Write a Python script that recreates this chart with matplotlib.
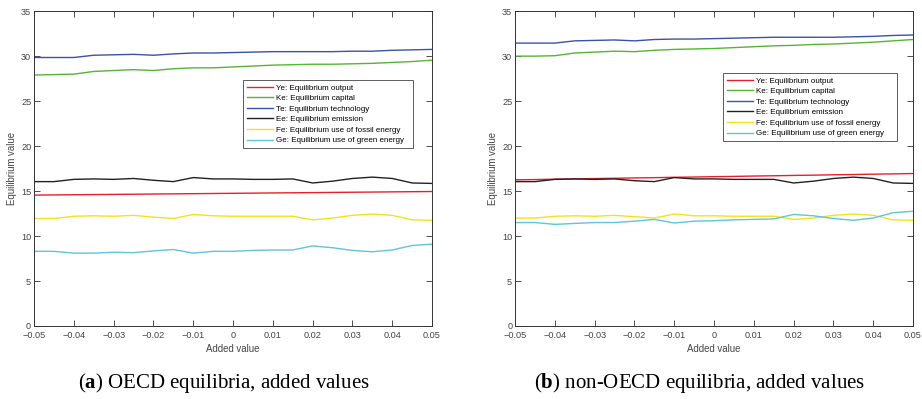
import matplotlib.pyplot as plt

# added value grid shared by both panels
added = [-0.05, -0.045, -0.04, -0.035, -0.03, -0.025, -0.02, -0.015, -0.01, -0.005,
         0.0, 0.005, 0.01, 0.015, 0.02, 0.025, 0.03, 0.035, 0.04, 0.045, 0.05]

labels = ["Ye: Equilibrium output", "Ke: Equilibrium capital",
          "Te: Equilibrium technology", "Ee: Equilibrium emission",
          "Fe: Equilibrium use of fossil energy",
          "Ge: Equilibrium use of green energy"]

# OECD equilibria
oecd_ye = [14.55, 14.57, 14.59, 14.61, 14.63, 14.65, 14.67, 14.69, 14.71, 14.73, 14.75,
           14.77, 14.79, 14.81, 14.83, 14.85, 14.87, 14.89, 14.91, 14.93, 14.95]
oecd_ke = [27.9, 27.95, 28.0, 28.3, 28.4, 28.5, 28.4, 28.6, 28.7, 28.7, 28.8,
           28.9, 29.0, 29.05, 29.1, 29.1, 29.15, 29.2, 29.3, 29.4, 29.55]
oecd_te = [29.85, 29.85, 29.85, 30.1, 30.15, 30.2, 30.1, 30.25, 30.35, 30.35, 30.4,
           30.45, 30.5, 30.5, 30.5, 30.5, 30.55, 30.55, 30.65, 30.7, 30.75]
oecd_ee = [16.05, 16.05, 16.3, 16.35, 16.3, 16.4, 16.2, 16.05, 16.5, 16.35, 16.35,
           16.3, 16.3, 16.35, 15.9, 16.1, 16.4, 16.55, 16.4, 15.9, 15.85]
oecd_fe = [11.95, 11.95, 12.2, 12.25, 12.2, 12.3, 12.1, 11.95, 12.4, 12.25, 12.2,
           12.2, 12.2, 12.2, 11.8, 12.0, 12.3, 12.45, 12.3, 11.8, 11.75]
oecd_ge = [8.3, 8.3, 8.1, 8.1, 8.2, 8.15, 8.35, 8.5, 8.1, 8.3, 8.3,
           8.4, 8.45, 8.45, 8.9, 8.7, 8.4, 8.25, 8.45, 8.95, 9.1]

# non-OECD equilibria
non_ye = [16.25, 16.28, 16.32, 16.35, 16.39, 16.42, 16.46, 16.49, 16.53, 16.56, 16.6,
          16.63, 16.67, 16.7, 16.74, 16.77, 16.81, 16.84, 16.88, 16.91, 16.95]
non_ke = [30.0, 30.0, 30.05, 30.35, 30.45, 30.55, 30.5, 30.65, 30.75, 30.8, 30.85,
          30.95, 31.05, 31.15, 31.2, 31.3, 31.35, 31.45, 31.55, 31.7, 31.85]
non_te = [31.45, 31.45, 31.45, 31.7, 31.75, 31.8, 31.7, 31.85, 31.9, 31.9, 31.95,
          32.0, 32.05, 32.1, 32.1, 32.1, 32.1, 32.15, 32.2, 32.3, 32.35]
non_ee = [16.05, 16.05, 16.3, 16.35, 16.3, 16.35, 16.15, 16.05, 16.5, 16.35, 16.35,
          16.3, 16.3, 16.3, 15.9, 16.1, 16.4, 16.55, 16.4, 15.9, 15.85]
non_fe = [12.0, 12.0, 12.2, 12.25, 12.2, 12.3, 12.15, 12.0, 12.45, 12.25, 12.25,
          12.2, 12.2, 12.2, 11.85, 12.0, 12.3, 12.45, 12.3, 11.8, 11.75]
non_ge = [11.5, 11.5, 11.3, 11.4, 11.5, 11.5, 11.65, 11.85, 11.45, 11.65, 11.7,
          11.8, 11.85, 11.9, 12.4, 12.25, 11.95, 11.75, 12.0, 12.6, 12.75]

colors = ["#e8202a", "#55b535", "#3a52a8", "#222222", "#f2e21e", "#5ec6d8"]

plt.rcParams["font.family"] = "Liberation Sans"
plt.rcParams["mathtext.fontset"] = "custom"
plt.rcParams["mathtext.rm"] = "Liberation Serif"
plt.rcParams["mathtext.bf"] = "Liberation Serif:bold"

fig = plt.figure(figsize=(9.22, 3.99), dpi=100)
ax_a = fig.add_axes([0.0369, 0.183, 0.4317, 0.789])
ax_b = fig.add_axes([0.5586, 0.183, 0.4317, 0.789])

panels = [
    (ax_a, [oecd_ye, oecd_ke, oecd_te, oecd_ee, oecd_fe, oecd_ge], (243, 82, 170, 66),
     r"($\mathbf{a}$) OECD equilibria, added values", 0.243),
    (ax_b, [non_ye, non_ke, non_te, non_ee, non_fe, non_ge], (723, 74, 174, 67),
     r"($\mathbf{b}$) non-OECD equilibria, added values", 0.759),
]

for ax, series, box, caption, cap_x in panels:
    # one line per equilibrium variable
    for vals, col, lab in zip(series, colors, labels):
        ax.plot(added, vals, color=col, lw=1.0, label=lab)

    ax.set_xlim(-0.05, 0.05)
    ax.set_ylim(0, 35)
    ax.set_xticks([-0.05, -0.04, -0.03, -0.02, -0.01, 0, 0.01, 0.02, 0.03, 0.04, 0.05])
    ax.set_xticklabels(["\u22120.05", "\u22120.04", "\u22120.03", "\u22120.02", "\u22120.01",
                        "0", "0.01", "0.02", "0.03", "0.04", "0.05"])
    ax.set_yticks([0, 5, 10, 15, 20, 25, 30, 35])
    ax.tick_params(direction="in", top=True, right=True, length=4, width=0.6,
                   labelsize=6.6, labelcolor="#444444", color="#333333", pad=2)
    ax.tick_params(axis="x", pad=3.5)
    for sp in ax.spines.values():
        sp.set_linewidth(0.7)
        sp.set_color("#333333")
    ax.set_xlabel("Added value", fontsize=6.9, color="#444444", labelpad=3)
    ax.set_ylabel("Equilibrium value", fontsize=6.9, color="#444444", labelpad=3)

    # legend placed by its box in figure pixels
    x0, y0, w, h = box
    leg = ax.legend(loc="lower left",
                    bbox_to_anchor=(x0 / 922, 1 - (y0 + h) / 399, w / 922, h / 399),
                    bbox_transform=fig.transFigure, mode="expand",
                    fontsize=5.8, frameon=True, fancybox=False, borderpad=0.45,
                    handlelength=3.3, handletextpad=0.4, labelspacing=0.36,
                    borderaxespad=0)
    leg.get_frame().set_edgecolor("#333333")
    leg.get_frame().set_linewidth(0.7)

    fig.text(cap_x, 0.04, caption, ha="center", va="center",
             fontsize=15, family="Liberation Serif")

fig.savefig("out.png", dpi=100)
